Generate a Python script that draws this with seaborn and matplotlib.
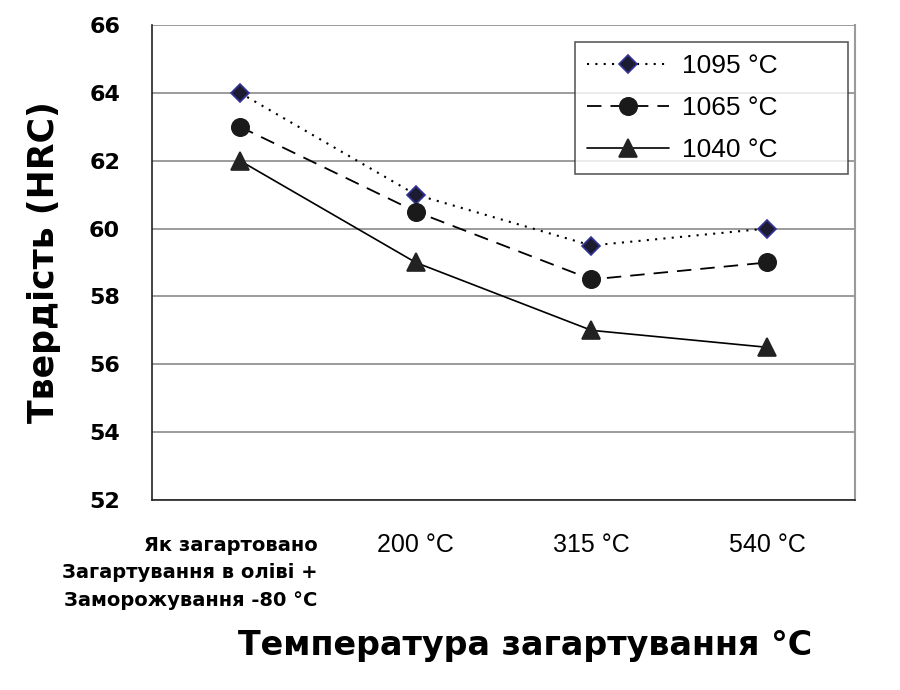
import matplotlib
matplotlib.use("Agg")
import pandas as pd
import matplotlib.pyplot as plt
import seaborn as sns
from matplotlib.transforms import blended_transform_factory

# ========== Data ==========
categories = ["Як загартовано", "200 °C", "315 °C", "540 °C"]
first_label = "Як загартовано\nЗагартування в оліві +\nЗаморожування -80 °C"
series_names = ["1095 °C", "1065 °C", "1040 °C"]
hrc_1095 = [64.0, 61.0, 59.5, 60.0]
hrc_1065 = [63.0, 60.5, 58.5, 59.0]
hrc_1040 = [62.0, 59.0, 57.0, 56.5]
y_ticks = [52, 54, 56, 58, 60, 62, 64, 66]

df = pd.DataFrame({
    "cat": categories * 3,
    "hrc": hrc_1095 + hrc_1065 + hrc_1040,
    "series": [series_names[0]] * 4 + [series_names[1]] * 4 + [series_names[2]] * 4,
})

# ========== Style ==========
sns.set_theme(style="white")
plt.rcParams["font.family"] = ["Liberation Sans", "DejaVu Sans"]
plt.rcParams["text.color"] = "black"
plt.rcParams["axes.labelcolor"] = "black"
plt.rcParams["xtick.color"] = "black"
plt.rcParams["ytick.color"] = "black"

fig = plt.figure(figsize=(9, 6.9), dpi=100)
ax = fig.add_axes([0.169, 0.2754, 0.781, 0.6884])

styles = {
    "1095 °C": dict(ls=(0, (1, 3)), lw=1.5, marker="D", mfc="#1c1c30", mec="#33339a", ms=9.5),
    "1065 °C": dict(ls=(0, (8, 5)), lw=1.3, marker="o", mfc="#1a1a1a", mec="#1a1a1a", ms=12.5),
    "1040 °C": dict(ls="-", lw=1.2, marker="^", mfc="#222222", mec="#222222", ms=13),
}

for name in series_names:
    sub = df[df["series"] == name]
    st = styles[name]
    sns.lineplot(data=sub, x="cat", y="hrc", ax=ax, color="black", lw=st["lw"],
                 linestyle=st["ls"], marker=st["marker"], markersize=st["ms"],
                 markerfacecolor=st["mfc"], markeredgecolor=st["mec"],
                 markeredgewidth=1.2, label=name, sort=False)

# ========== Axes ==========
ax.set_xlim(-0.5, 3.5)
ax.set_ylim(52, 66)
ax.set_yticks(y_ticks)
ax.set_yticklabels([str(v) for v in y_ticks], fontsize=16, fontweight="bold",
                   family="DejaVu Sans")
ax.yaxis.grid(True, color="#8a8a8a", lw=1.2)
ax.xaxis.grid(False)
ax.set_axisbelow(True)

ax.set_xticks([-0.5, 0.5, 1.5, 2.5, 3.5])
ax.set_xticklabels([])
ax.set_xticks([1, 2, 3], minor=True)
ax.set_xticklabels(categories[1:], minor=True, fontsize=18)
ax.tick_params(axis="x", which="major", direction="out", length=10, width=1, color="#333333")
ax.tick_params(axis="x", which="minor", length=0, pad=24)
ax.tick_params(axis="y", direction="out", length=10, width=1, color="#333333", pad=13)

trans = blended_transform_factory(ax.transData, ax.transAxes)
ax.text(0.44, -0.076, first_label, transform=trans, ha="right", va="top",
        fontsize=14, fontweight="bold", linespacing=1.55, family="DejaVu Sans")

for side in ["left", "bottom"]:
    ax.spines[side].set_color("#222222")
    ax.spines[side].set_linewidth(1.2)
ax.spines["right"].set_color("#9a9a9a")
ax.spines["right"].set_linewidth(1.5)
ax.spines["top"].set_visible(False)

ax.set_xlabel("")
ax.set_ylabel("Твердість (HRC)", fontsize=25, fontweight="bold", labelpad=20,
              family="DejaVu Sans")
fig.text(0.583, 0.065, "Температура загартування °C", ha="center", va="center",
         fontsize=24, fontweight="bold", family="DejaVu Sans")

leg = ax.legend(loc="upper left", bbox_to_anchor=(0.602, 0.695, 0.388, 0.269),
                mode="expand", borderaxespad=0, fontsize=19,
                frameon=True, fancybox=False, edgecolor="#333333",
                handlelength=3.1, labelspacing=0.68, borderpad=0.45, handletextpad=0.5)
leg.get_frame().set_linewidth(1.2)

fig.savefig("out.png", dpi=100)
